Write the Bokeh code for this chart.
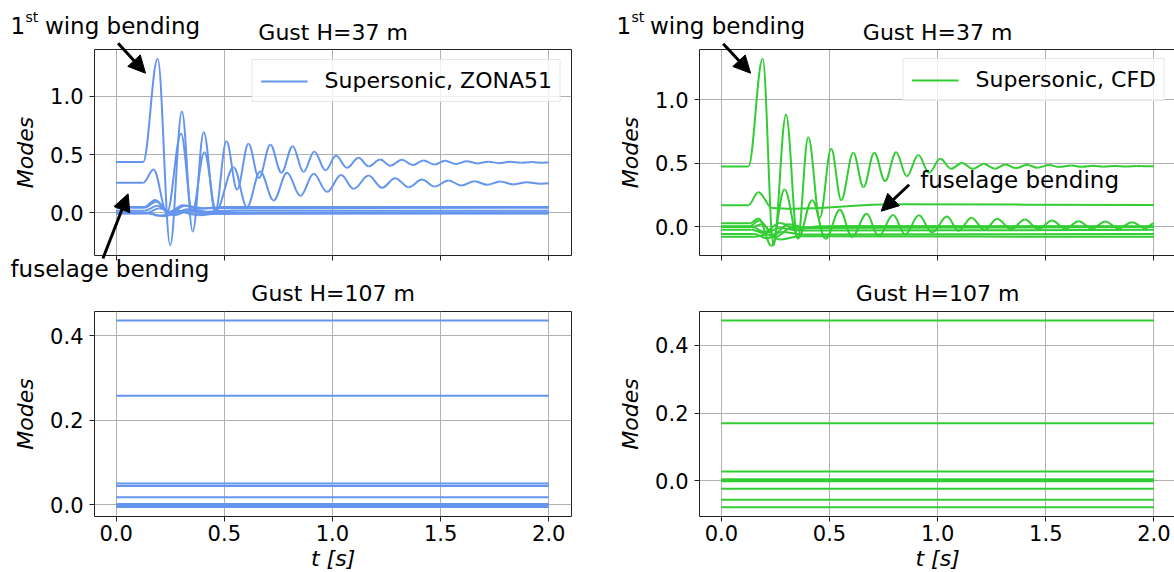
import numpy as np
from bokeh.plotting import figure
from bokeh.layouts import column, row
from bokeh.models import (Range1d, FixedTicker, PrintfTickFormatter, CustomJSTickFormatter,
                          Label, Arrow, NormalHead, LinearAxis, Legend, LegendItem, GridBox)
from bokeh.embed import file_html
from bokeh.resources import INLINE

FONT = "DejaVu Sans"
BLUE = "#6495ED"
GREEN = "#32CD32"
INK = "#222222"

# ---------------- data ----------------
x_ticks = [0.0, 0.5, 1.0, 1.5, 2.0]
top_y_ticks = [0.0, 0.5, 1.0]
bottom_y_ticks = [0.0, 0.2, 0.4]
t_span = [0.0, 2.0]

# Gust H=37 m, ZONA51: modal responses read at their turning points (t [s], value)
zona_wing = [(0.0, 0.437), (0.125, 0.437), (0.192, 1.324), (0.250, -0.280), (0.304, 0.870),
             (0.354, -0.160), (0.405, 0.693), (0.458, 0.005), (0.510, 0.615), (0.559, 0.200),
             (0.612, 0.593), (0.660, 0.300), (0.713, 0.585), (0.764, 0.345), (0.816, 0.573),
             (0.866, 0.350), (0.916, 0.527), (0.968, 0.365), (1.016, 0.490), (1.067, 0.387),
             (1.121, 0.473), (1.167, 0.400), (1.221, 0.458), (1.267, 0.405), (1.321, 0.456),
             (1.372, 0.410), (1.421, 0.450), (1.472, 0.415), (1.521, 0.448), (1.571, 0.420),
             (1.621, 0.444), (1.669, 0.425), (1.721, 0.440), (1.769, 0.427), (1.821, 0.438),
             (1.869, 0.430), (1.921, 0.437), (1.969, 0.430), (2.0, 0.433)]
zona_fuselage = [(0.0, 0.258), (0.125, 0.258), (0.173, 0.372), (0.235, 0.000), (0.300, 0.680),
                 (0.352, 0.010), (0.408, 0.520), (0.462, 0.020), (0.543, 0.392), (0.605, 0.050),
                 (0.666, 0.355), (0.728, 0.106), (0.790, 0.345), (0.852, 0.145), (0.913, 0.335),
                 (0.975, 0.180), (1.040, 0.325), (1.098, 0.206), (1.167, 0.320), (1.229, 0.215),
                 (1.290, 0.298), (1.352, 0.220), (1.414, 0.286), (1.472, 0.226), (1.537, 0.278),
                 (1.595, 0.235), (1.657, 0.272), (1.715, 0.241), (1.776, 0.269), (1.837, 0.244),
                 (1.899, 0.263), (1.960, 0.250), (2.0, 0.255)]
zona_mode3 = [(0.0, 0.050), (0.130, 0.050), (0.180, 0.110), (0.245, 0.010), (0.310, 0.065),
              (0.380, 0.035), (0.500, 0.050), (2.0, 0.049)]
zona_mode4 = [(0.0, 0.044), (0.130, 0.044), (0.185, 0.095), (0.250, 0.000), (0.320, 0.060),
              (0.400, 0.040), (2.0, 0.044)]
zona_mode5 = [(0.0, 0.017), (0.130, 0.017), (0.190, 0.060), (0.260, -0.010), (0.330, 0.030),
              (0.420, 0.010), (0.550, 0.020), (2.0, 0.017)]
zona_mode6 = [(0.0, 0.001), (0.140, 0.001), (0.200, -0.025), (0.280, 0.020), (0.360, -0.015),
              (0.450, 0.010), (0.600, 0.001), (2.0, 0.001)]
zona_mode7 = [(0.0, -0.003), (0.140, -0.003), (0.200, 0.040), (0.270, -0.020), (0.340, 0.020),
              (0.420, -0.010), (2.0, -0.003)]
zona_mode8 = [(0.0, -0.006), (0.150, -0.006), (0.220, -0.030), (0.300, 0.010), (0.380, -0.020),
              (0.500, 0.000), (2.0, -0.006)]

# Gust H=37 m, CFD
cfd_wing = [(0.0, 0.474), (0.125, 0.474), (0.191, 1.323), (0.241, -0.147), (0.299, 0.882),
            (0.353, -0.095), (0.402, 0.706), (0.455, 0.070), (0.508, 0.614), (0.554, 0.210),
            (0.610, 0.583), (0.657, 0.312), (0.707, 0.583), (0.757, 0.360), (0.808, 0.587),
            (0.857, 0.398), (0.911, 0.565), (0.960, 0.425), (1.012, 0.535), (1.062, 0.457),
            (1.113, 0.502), (1.163, 0.457), (1.213, 0.494), (1.264, 0.458), (1.313, 0.490),
            (1.362, 0.462), (1.413, 0.488), (1.461, 0.465), (1.516, 0.486), (1.563, 0.470),
            (1.618, 0.482), (1.668, 0.472), (1.718, 0.480), (1.768, 0.473), (1.820, 0.479),
            (1.870, 0.474), (1.920, 0.478), (2.0, 0.476)]
cfd_fuselage = [(0.0, 0.170), (0.125, 0.170), (0.171, 0.273), (0.235, 0.148), (0.330, 0.142),
                (0.800, 0.177), (2.0, 0.172)]
cfd_mode3 = [(0.0, 0.027), (0.130, 0.027), (0.172, 0.065), (0.232, -0.150), (0.292, 0.294),
             (0.355, -0.090), (0.420, 0.210), (0.482, -0.095), (0.548, 0.134), (0.604, -0.080),
             (0.672, 0.102), (0.727, -0.075), (0.794, 0.092), (0.850, -0.060), (0.913, 0.090),
             (0.975, -0.045), (1.043, 0.081), (1.097, -0.032), (1.156, 0.071), (1.217, -0.025),
             (1.275, 0.063), (1.340, -0.020), (1.403, 0.057), (1.466, -0.018), (1.529, 0.050),
             (1.590, -0.016), (1.652, 0.044), (1.713, -0.015), (1.775, 0.042), (1.836, -0.014),
             (1.898, 0.036), (1.960, -0.012), (2.0, 0.028)]
cfd_mode4 = [(0.0, 0.004), (0.130, 0.004), (0.175, 0.050), (0.240, -0.060), (0.310, 0.020),
             (0.400, -0.010), (0.550, 0.005), (2.0, 0.004)]
cfd_mode5 = [(0.0, 0.001), (0.140, 0.001), (0.200, -0.040), (0.270, 0.030), (0.350, -0.020),
             (0.450, 0.005), (2.0, 0.001)]
cfd_mode6 = [(0.0, -0.002), (0.140, -0.002), (0.190, 0.020), (0.250, -0.080), (0.330, 0.000),
             (0.450, -0.010), (2.0, -0.002)]
cfd_mode7 = [(0.0, -0.024), (0.140, -0.024), (0.200, -0.050), (0.270, -0.010), (0.360, -0.030),
             (2.0, -0.024)]
cfd_mode8 = [(0.0, -0.057), (0.150, -0.057), (0.210, -0.090), (0.280, -0.040), (0.380, -0.060),
             (2.0, -0.057)]
cfd_mode9 = [(0.0, -0.079), (0.150, -0.079), (0.210, -0.060), (0.270, -0.100), (0.360, -0.075),
             (2.0, -0.079)]

# Gust H=107 m: modal values stay at their initial levels
zona_107_levels = [0.436, 0.258, 0.050, 0.044, 0.017, 0.001, -0.003, -0.006]
cfd_107_levels = [0.474, 0.170, 0.027, 0.004, 0.001, -0.002, -0.024, -0.057, -0.079]

zona_37 = [zona_wing, zona_fuselage, zona_mode3, zona_mode4, zona_mode5, zona_mode6,
           zona_mode7, zona_mode8]
cfd_37 = [cfd_wing, cfd_fuselage, cfd_mode3, cfd_mode4, cfd_mode5, cfd_mode6, cfd_mode7,
          cfd_mode8, cfd_mode9]


# ---------------- helpers ----------------
def build(width, height, xr, yr, borders, y_ticks, show_x_labels, open_right):
    bl, br, bt, bb = borders
    p = figure(width=width, height=height, x_range=Range1d(*xr), y_range=Range1d(*yr),
               output_backend="svg", toolbar_location=None, title=None,
               min_border_left=bl, min_border_right=br, min_border_top=bt, min_border_bottom=bb)
    p.background_fill_color = "white"
    p.border_fill_color = "white"
    for ax in (p.xaxis[0], p.yaxis[0]):
        ax.major_tick_in = 0
        ax.major_tick_out = 5
        ax.major_tick_line_color = INK
        ax.major_tick_line_width = 1
        ax.minor_tick_line_color = None
        ax.major_label_text_font = FONT
        ax.major_label_text_font_size = "21px"
        ax.major_label_text_color = "black"
    p.xaxis.ticker = FixedTicker(ticks=x_ticks)
    p.yaxis.ticker = FixedTicker(ticks=y_ticks)
    p.yaxis.formatter = PrintfTickFormatter(format="%.1f")
    if show_x_labels:
        p.xaxis.formatter = PrintfTickFormatter(format="%.1f")
    else:
        p.xaxis.formatter = CustomJSTickFormatter(code="return ''")
    p.xaxis.major_label_standoff = 3
    p.yaxis.major_label_standoff = 6
    p.yaxis.axis_label = "Modes"
    p.yaxis.axis_label_text_font = FONT
    p.yaxis.axis_label_text_font_style = "italic"
    p.yaxis.axis_label_text_font_size = "22px"
    p.yaxis.axis_label_text_color = "black"
    p.yaxis.axis_label_standoff = 9
    p.xgrid.grid_line_color = "#b0b0b0"
    p.ygrid.grid_line_color = "#b0b0b0"
    p.xgrid.grid_line_width = 1
    p.ygrid.grid_line_width = 1
    if open_right:
        p.outline_line_color = None
        p.xaxis.axis_line_color = INK
        p.yaxis.axis_line_color = INK
        top_ax = LinearAxis(ticker=FixedTicker(ticks=[]),
                            formatter=CustomJSTickFormatter(code="return ''"),
                            major_tick_line_color=None, minor_tick_line_color=None,
                            axis_line_color=INK, axis_line_width=1)
        p.add_layout(top_ax, "above")
    else:
        p.outline_line_color = INK
        p.outline_line_width = 1
        p.xaxis.axis_line_color = None
        p.yaxis.axis_line_color = None
    return p


def draw_mode(p, pts, color):
    t = np.array([a for a, _ in pts], dtype=float)
    v = np.array([b for _, b in pts], dtype=float)
    dt = np.diff(t)
    k = 0.363  # turning points joined with horizontal tangents
    p.bezier(x0=t[:-1], y0=v[:-1], x1=t[1:], y1=v[1:],
             cx0=t[:-1] + k * dt, cy0=v[:-1], cx1=t[1:] - k * dt, cy1=v[1:],
             line_color=color, line_width=2)


def add_legend(p, label, color, margin, first_pt):
    r = p.line(x=[first_pt[0]], y=[first_pt[1]], line_color=color, line_width=2)
    lg = Legend(items=[LegendItem(label=label, renderers=[r])], location="top_right",
                label_text_font=FONT, label_text_font_size="22px", label_text_color="black",
                glyph_width=47, glyph_height=22, label_height=22, label_standoff=17,
                padding=8, spacing=0, margin=margin,
                border_line_color="#d0d0d0", border_line_width=1,
                background_fill_color="white", background_fill_alpha=0.8)
    p.add_layout(lg)


def text(p, x, y, s, size="23px", align="left", baseline="alphabetic", style="normal"):
    p.add_layout(Label(x=x, y=y, text=s, text_font=FONT, text_font_size=size,
                       text_align=align, text_baseline=baseline, text_font_style=style,
                       text_color="black"))


def arrow(p, x0, y0, x1, y1):
    p.add_layout(Arrow(end=NormalHead(size=17, fill_color="black", line_color="black"),
                       x_start=x0, y_start=y0, x_end=x1, y_end=y1,
                       line_color="black", line_width=3))


# ---------------- panels ----------------
tl = build(594, 285, (-0.1, 2.105), (-0.367, 1.404), (94, 23, 49, 30), top_y_ticks, False, False)
tr = build(580, 285, (-0.101, 2.095), (-0.226, 1.396), (105, 0, 49, 30), top_y_ticks, False, True)
bl = build(594, 287, (-0.1, 2.105), (-0.0284, 0.4575), (94, 23, 26, 56), bottom_y_ticks, True, False)
br = build(580, 287, (-0.101, 2.095), (-0.1064, 0.5005), (105, 0, 26, 56), bottom_y_ticks, True, True)

for pts in zona_37:
    draw_mode(tl, pts, BLUE)
for pts in cfd_37:
    draw_mode(tr, pts, GREEN)
for lvl in zona_107_levels:
    bl.line(x=t_span, y=[lvl, lvl], line_color=BLUE, line_width=2)
for lvl in cfd_107_levels:
    br.line(x=t_span, y=[lvl, lvl], line_color=GREEN, line_width=2)

add_legend(tl, "Supersonic, ZONA51", BLUE, 10, zona_wing[0])
add_legend(tr, "Supersonic, CFD", GREEN, 9, cfd_wing[0])

# inside-frame annotation (right panel)
text(tr, 0.919, 0.366, "fuselage bending")
arrow(tr, 0.868, 0.331, 0.739, 0.123)

# ---------------- page-level text layer (pixels from the top-left corner) ----------------
ov = figure(width=1174, height=572, x_range=Range1d(0, 1174), y_range=Range1d(572, 0),
            output_backend="svg", toolbar_location=None, title=None,
            x_axis_location=None, y_axis_location=None, min_border=0)
ov.outline_line_color = None
ov.background_fill_color = None
ov.border_fill_color = None
ov.grid.visible = False

# titles
text(ov, 332.6, 31.5, "Gust H=37 m", size="22px", align="center")
text(ov, 937.1, 31.5, "Gust H=37 m", size="22px", align="center")
text(ov, 332.6, 293, "Gust H=107 m", size="22px", align="center")
text(ov, 937.1, 293, "Gust H=107 m", size="22px", align="center")
# x axis labels
text(ov, 332.6, 558, "t [s]", size="22px", align="center", baseline="middle", style="italic")
text(ov, 937.1, 558, "t [s]", size="22px", align="center", baseline="middle", style="italic")
# left annotations
text(ov, 10, 25, "1")
text(ov, 25, 16.5, "st", size="14px")
text(ov, 44.4, 25, "wing bending")
arrow(ov, 117.6, 42.7, 145.0, 72.7)
text(ov, 10, 268.5, "fuselage bending")
arrow(ov, 102.4, 258, 127.6, 193.3)
# right annotations
text(ov, 616, 25, "1")
text(ov, 631, 16.5, "st", size="14px")
text(ov, 649.5, 25, "wing bending")
arrow(ov, 722.7, 43.3, 750.1, 72.7)

panels = column(row(tl, tr), row(bl, br))
layout = GridBox(children=[(panels, 0, 0), (ov, 0, 0)])
open("out.html", "w").write(file_html(layout, INLINE))
